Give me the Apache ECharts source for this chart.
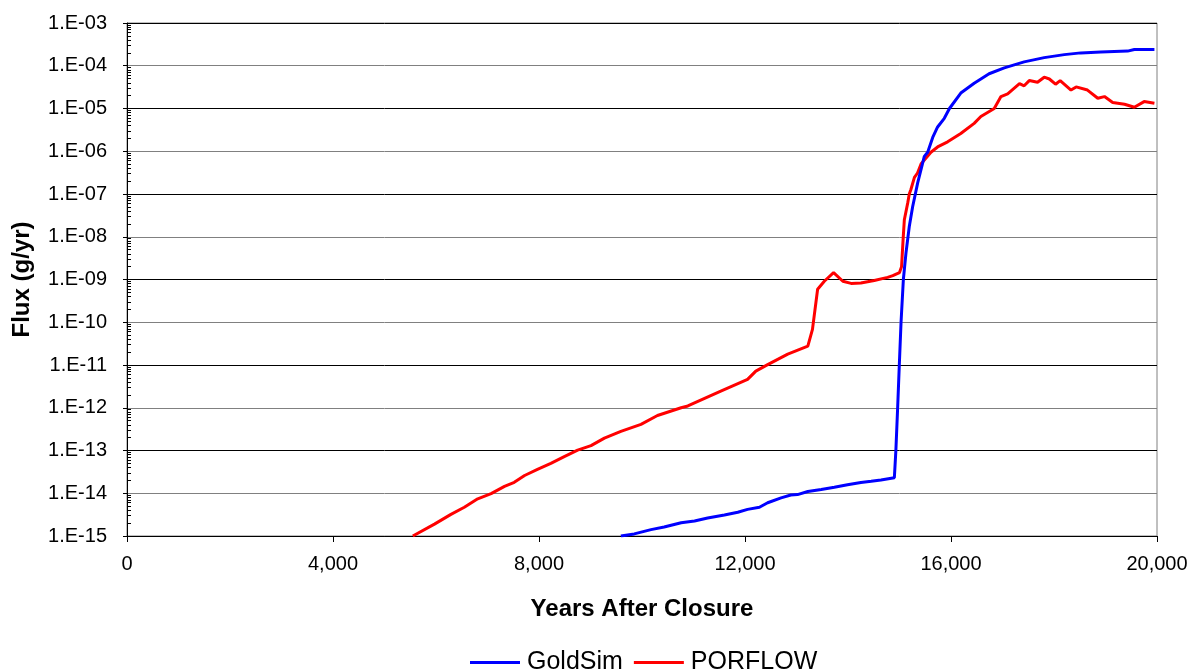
<!DOCTYPE html>
<html>
<head>
<meta charset="utf-8">
<script src="https://cdn.jsdelivr.net/npm/echarts@6/dist/echarts.min.js"></script>
<style>
  html, body { margin: 0; padding: 0; background: #fff; }
  #chart { width: 1195px; height: 672px; }
</style>
</head>
<body>
<div id="chart"></div>
<script>
// ---- data ----
const xTicks = [0, 4000, 8000, 12000, 16000, 20000];

const goldsimYears = [9590, 9850, 10175, 10430, 10760, 11020, 11275, 11600, 11860, 12050, 12280, 12440, 12700, 12890, 13020, 13220, 13480, 13735, 13990, 14250, 14450, 14640, 14900, 14930, 14965, 14996, 15030, 15075, 15126, 15190, 15256, 15353, 15482, 15547, 15645, 15740, 15870, 15970, 16190, 16450, 16740, 17035, 17420, 17810, 18200, 18520, 18910, 19430, 19560, 19950];
const goldsimFlux = [1.0e-15, 1.12e-15, 1.41e-15, 1.62e-15, 2.04e-15, 2.24e-15, 2.63e-15, 3.1e-15, 3.6e-15, 4.2e-15, 4.7e-15, 6.0e-15, 7.8e-15, 9.1e-15, 9.3e-15, 1.1e-14, 1.23e-14, 1.38e-14, 1.58e-14, 1.78e-14, 1.9e-14, 2.04e-14, 2.3e-14, 1.02e-13, 1.07e-12, 9.8e-12, 1.0e-10, 1.0e-9, 4.2e-9, 1.74e-8, 5.1e-8, 1.82e-7, 7.6e-7, 9.5e-7, 2.1e-6, 3.7e-6, 5.9e-6, 1.0e-5, 2.3e-5, 3.9e-5, 6.5e-5, 8.9e-5, 1.23e-4, 1.55e-4, 1.82e-4, 2.0e-4, 2.1e-4, 2.2e-4, 2.4e-4, 2.4e-4];

const porflowYears = [5550, 5970, 6290, 6550, 6810, 7070, 7330, 7520, 7720, 7970, 8230, 8490, 8750, 9010, 9270, 9590, 9980, 10300, 10760, 10890, 11530, 12050, 12210, 12440, 12830, 13220, 13310, 13410, 13540, 13720, 13900, 14060, 14250, 14510, 14770, 14870, 15000, 15040, 15070, 15094, 15160, 15190, 15220, 15290, 15350, 15420, 15515, 15610, 15740, 15935, 16190, 16450, 16580, 16840, 16970, 17100, 17330, 17420, 17520, 17680, 17810, 17910, 18030, 18120, 18330, 18430, 18650, 18850, 18980, 19140, 19370, 19560, 19750, 19950];
const porflowFlux = [1.0e-15, 1.9e-15, 3.2e-15, 4.7e-15, 7.4e-15, 9.8e-15, 1.45e-14, 1.8e-14, 2.6e-14, 3.6e-14, 5.0e-14, 7.2e-14, 1.02e-13, 1.3e-13, 1.95e-13, 2.8e-13, 4.1e-13, 6.6e-13, 1.0e-12, 1.1e-12, 2.45e-12, 4.6e-12, 7.2e-12, 1.02e-11, 1.8e-11, 2.75e-11, 6.8e-11, 5.9e-10, 9.1e-10, 1.45e-9, 9.1e-10, 8.1e-10, 8.3e-10, 9.5e-10, 1.12e-9, 1.23e-9, 1.45e-9, 2.0e-9, 8.7e-9, 2.5e-8, 6.2e-8, 1.0e-7, 1.26e-7, 2.45e-7, 3.1e-7, 5.1e-7, 6.9e-7, 9.5e-7, 1.26e-6, 1.66e-6, 2.6e-6, 4.5e-6, 6.5e-6, 1.0e-5, 1.9e-5, 2.2e-5, 3.8e-5, 3.4e-5, 4.5e-5, 4.1e-5, 5.4e-5, 4.9e-5, 3.7e-5, 4.5e-5, 2.7e-5, 3.2e-5, 2.7e-5, 1.74e-5, 1.9e-5, 1.38e-5, 1.26e-5, 1.07e-5, 1.45e-5, 1.32e-5];

const seriesNames = ['GoldSim', 'PORFLOW'];
const yMin = 1e-15, yMax = 1e-3;

// minor tick positions (2..9 x 10^n) for the log axis
const minorTicks = [];
for (let e = -15; e < -3; e++) {
  for (let k = 2; k <= 9; k++) minorTicks.push(Number((k + 'e' + e)));
}

function pairs(xs, ys) { return xs.map((x, i) => [x, ys[i]]); }
function expLabel(v) {
  const e = Math.round(Math.log10(v));
  const a = Math.abs(e);
  return '1.E' + (e < 0 ? '-' : '+') + (a < 10 ? '0' + a : '' + a);
}

const FONT = "'Liberation Sans', Arial, sans-serif";
const chart = echarts.init(document.getElementById('chart'));
chart.setOption({
  animation: false,
  backgroundColor: '#ffffff',
  grid: { left: 127, right: 38, top: 23, bottom: 136, show: true, borderColor: '#808080', borderWidth: 1, containLabel: false },
  legend: {
    data: seriesNames,
    left: 465,
    top: 645,
    icon: 'rect',
    itemWidth: 50,
    itemHeight: 3,
    itemGap: 11,
    textStyle: { fontFamily: FONT, fontSize: 25, color: '#000', padding: [0, 0, 0, 2] }
  },
  xAxis: {
    type: 'value',
    min: 0, max: 20000, interval: 4000,
    name: 'Years After Closure',
    nameLocation: 'middle',
    nameGap: 61,
    nameTextStyle: { fontFamily: FONT, fontSize: 24, fontWeight: 'bold', color: '#000' },
    axisLine: { show: true, onZero: false, lineStyle: { color: '#000', width: 1 } },
    axisTick: { show: true, inside: false, length: 6, lineStyle: { color: '#000' } },
    axisLabel: {
      margin: 18, fontFamily: FONT, fontSize: 20, color: '#000',
      formatter: v => v.toLocaleString('en-US')
    },
    splitLine: { show: false }
  },
  yAxis: [{
    type: 'log',
    logBase: 10,
    min: yMin, max: yMax,
    interval: 1,
    splitNumber: 12,
    position: 'left',
    name: 'Flux (g/yr)',
    nameLocation: 'middle',
    nameGap: 93,
    nameRotate: 90,
    nameTextStyle: { fontFamily: FONT, fontSize: 24, fontWeight: 'bold', color: '#000' },
    axisLine: { show: true, lineStyle: { color: '#000', width: 1 } },
    axisTick: { show: true, inside: false, length: 4, lineStyle: { color: '#000' } },
    axisLabel: { margin: 20, fontFamily: FONT, fontSize: 20, color: '#000', formatter: expLabel },
    splitLine: { show: true, showMaxLine: false, lineStyle: { color: ['#000000', '#808080'], width: 1 } }
  }, {
    type: 'log',
    logBase: 10,
    min: yMin, max: yMax,
    position: 'left',
    axisLine: { show: false },
    axisLabel: { show: false },
    splitLine: { show: false },
    axisTick: { show: true, inside: true, length: 4, customValues: minorTicks, lineStyle: { color: '#000' } }
  }],
  series: [{
    name: seriesNames[0],
    type: 'line',
    yAxisIndex: 0,
    data: pairs(goldsimYears, goldsimFlux),
    symbol: 'none',
    lineStyle: { color: '#0000ff', width: 3 },
    itemStyle: { color: '#0000ff' },
    z: 3
  }, {
    name: seriesNames[1],
    type: 'line',
    yAxisIndex: 0,
    data: pairs(porflowYears, porflowFlux),
    symbol: 'none',
    lineStyle: { color: '#ff0000', width: 3 },
    itemStyle: { color: '#ff0000' },
    z: 2
  }]
});
</script>
</body>
</html>
